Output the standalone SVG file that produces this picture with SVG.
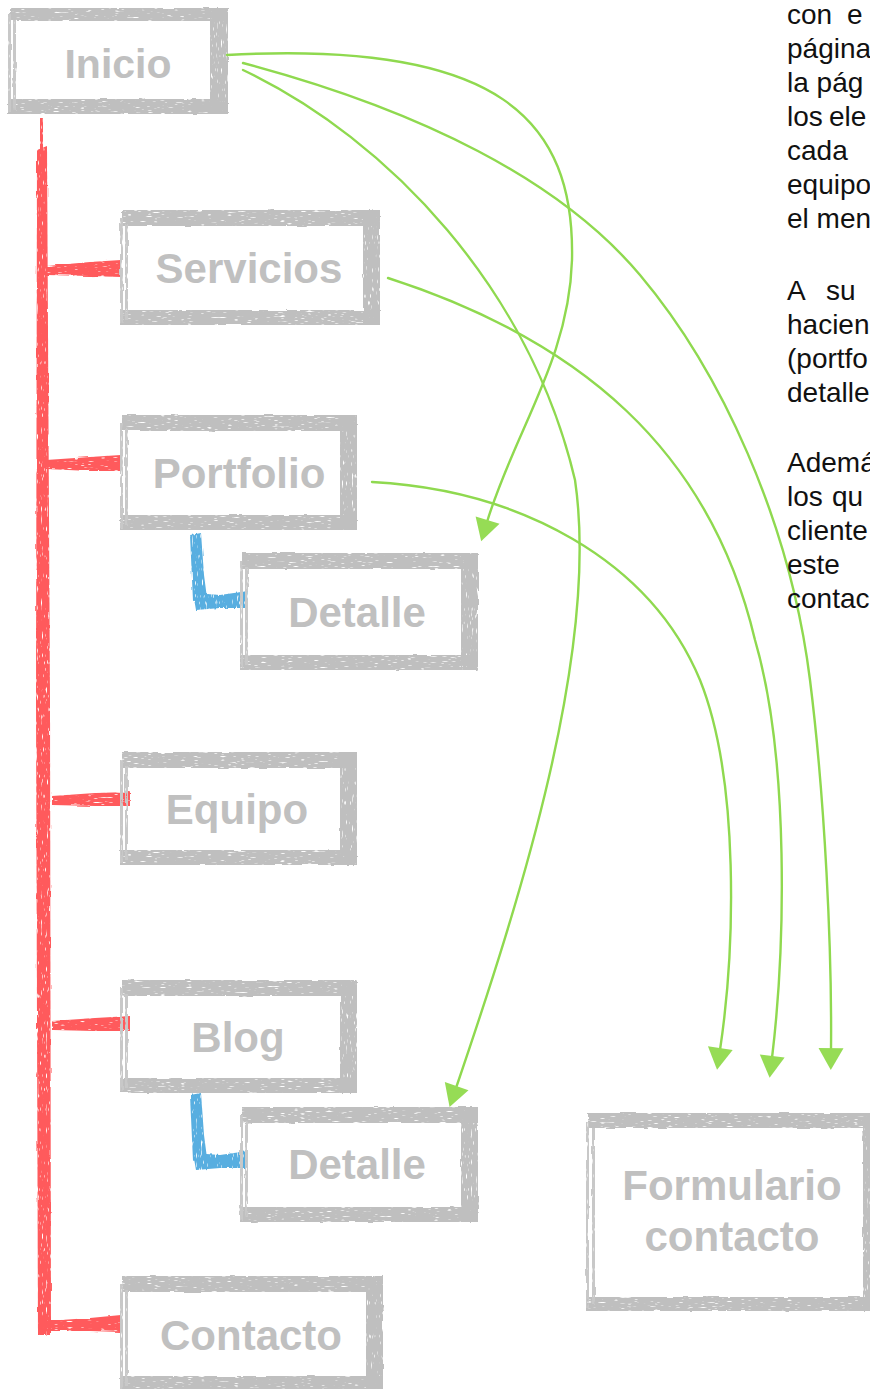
<svg xmlns="http://www.w3.org/2000/svg" width="870" height="1389" viewBox="0 0 870 1389">
  <defs>
    <style>
      .frame { fill: #bfbfbf; }
      .frame-thin { fill: #c8c8c8; }
      .label { font-family: "Liberation Sans", Arial, sans-serif; font-weight: bold; font-size: 42px; fill: #c0c0c0; text-anchor: middle; }
      .para { font-family: "Liberation Sans", Arial, sans-serif; font-size: 28px; fill: #111111; }
      .tree { fill: #ff5a5c; }
      .sub { fill: #58aee0; }
      .link { fill: none; stroke: #8fd94f; stroke-width: 2.4; stroke-linecap: round; }
    </style>
    <!-- dry brush grain: horizontal streaks -->
    <filter id="grainH" x="-5%" y="-10%" width="110%" height="120%">
      <feTurbulence type="fractalNoise" baseFrequency="0.05 0.5" numOctaves="2" seed="4" result="n"/>
      <feDisplacementMap in="SourceGraphic" in2="n" scale="2.5" xChannelSelector="R" yChannelSelector="G" result="d"/>
      <feTurbulence type="fractalNoise" baseFrequency="0.15 1.2" numOctaves="1" seed="9" result="g"/>
      <feColorMatrix in="g" type="matrix" values="0 0 0 0 0  0 0 0 0 0  0 0 0 0 0  7 0 0 0 -1.6" result="m"/>
      <feComposite in="d" in2="m" operator="in"/>
    </filter>
    <!-- dry brush grain: vertical streaks -->
    <filter id="grainV" x="-10%" y="-5%" width="120%" height="110%">
      <feTurbulence type="fractalNoise" baseFrequency="0.5 0.05" numOctaves="2" seed="6" result="n"/>
      <feDisplacementMap in="SourceGraphic" in2="n" scale="2.5" xChannelSelector="R" yChannelSelector="G" result="d"/>
      <feTurbulence type="fractalNoise" baseFrequency="1.2 0.15" numOctaves="1" seed="12" result="g"/>
      <feColorMatrix in="g" type="matrix" values="0 0 0 0 0  0 0 0 0 0  0 0 0 0 0  7 0 0 0 -1.6" result="m"/>
      <feComposite in="d" in2="m" operator="in"/>
    </filter>
    <marker id="tip" markerUnits="userSpaceOnUse" markerWidth="26" markerHeight="26" refX="2" refY="12.5" orient="auto" overflow="visible">
      <path d="M0,0 L22,12.5 L0,25 Z" fill="#96dc55"/>
    </marker>
  </defs>

  <rect width="870" height="1389" fill="#ffffff"/>

  <!-- red site tree: trunk and branches -->
  <g id="tree" class="tree" filter="url(#grainV)">
    <rect x="40" y="118" width="3" height="40"/>
    <path d="M37,150 L47,146 L50,700 L51,1335 L38,1335 L36,700 Z"/>
  </g>
  <g id="branches" class="tree" filter="url(#grainH)">
    <path d="M46,266 L90,262 L121,260 L121,277 L90,276 L46,275 Z"/>
    <path d="M46,460 L90,457 L121,455 L121,471 L90,471 L46,469 Z"/>
    <path d="M52,796 L95,793 L130,792 L130,806 L95,806 L52,805 Z"/>
    <path d="M52,1021 L95,1018 L130,1016 L130,1031 L95,1031 L52,1030 Z"/>
    <path d="M46,1321 L90,1318 L121,1315 L121,1332 L90,1331 L46,1331 Z"/>
  </g>

  <!-- blue sub-page connectors -->
  <g id="subs" class="sub" filter="url(#grainV)">
    <path d="M190,535 L201,533 L204,575 L207,598 L193,601 Z"/>
    <path d="M193,593 L220,595 L248,591 L248,608 L220,608 L196,610 Z"/>
    <path d="M190,1095 L201,1093 L204,1135 L207,1158 L193,1161 Z"/>
    <path d="M193,1153 L220,1155 L248,1151 L248,1168 L220,1168 L196,1170 Z"/>
  </g>

  <!-- nodes -->
  <g id="n-inicio">
    <g class="frame" filter="url(#grainH)">
      <rect x="10" y="8" width="218" height="13"/>
      <rect x="8" y="99" width="220" height="15"/>
    </g>
    <g class="frame" filter="url(#grainV)">
      <rect x="210" y="8" width="18" height="106"/>
      <rect class="frame-thin" x="8" y="14" width="3" height="98"/>
      <rect class="frame-thin" x="13" y="20" width="3" height="90"/>
    </g>
    <text class="label" x="118" y="78" style="font-size:41px">Inicio</text>
  </g>

  <g id="n-servicios">
    <g class="frame" filter="url(#grainH)">
      <rect x="122" y="210" width="258" height="16"/>
      <rect x="120" y="310" width="260" height="15"/>
    </g>
    <g class="frame" filter="url(#grainV)">
      <rect x="363" y="210" width="17" height="115"/>
      <rect class="frame-thin" x="120" y="218" width="3" height="105"/>
      <rect class="frame-thin" x="125" y="224" width="3" height="96"/>
    </g>
    <text class="label" x="249" y="283">Servicios</text>
  </g>

  <g id="n-portfolio">
    <g class="frame" filter="url(#grainH)">
      <rect x="122" y="415" width="235" height="16"/>
      <rect x="120" y="515" width="237" height="15"/>
    </g>
    <g class="frame" filter="url(#grainV)">
      <rect x="340" y="415" width="17" height="115"/>
      <rect class="frame-thin" x="120" y="423" width="3" height="105"/>
      <rect class="frame-thin" x="125" y="429" width="3" height="96"/>
    </g>
    <text class="label" x="239" y="488">Portfolio</text>
  </g>

  <g id="n-detalle-portfolio">
    <g class="frame" filter="url(#grainH)">
      <rect x="242" y="553" width="236" height="16"/>
      <rect x="240" y="655" width="238" height="15"/>
    </g>
    <g class="frame" filter="url(#grainV)">
      <rect x="461" y="553" width="17" height="117"/>
      <rect class="frame-thin" x="240" y="561" width="3" height="107"/>
      <rect class="frame-thin" x="245" y="567" width="3" height="98"/>
    </g>
    <text class="label" x="357" y="627">Detalle</text>
  </g>

  <g id="n-equipo">
    <g class="frame" filter="url(#grainH)">
      <rect x="122" y="752" width="235" height="16"/>
      <rect x="120" y="850" width="237" height="15"/>
    </g>
    <g class="frame" filter="url(#grainV)">
      <rect x="340" y="752" width="17" height="113"/>
      <rect class="frame-thin" x="120" y="760" width="3" height="103"/>
      <rect class="frame-thin" x="125" y="766" width="3" height="94"/>
    </g>
    <text class="label" x="237" y="824">Equipo</text>
  </g>

  <g id="n-blog">
    <g class="frame" filter="url(#grainH)">
      <rect x="122" y="980" width="235" height="16"/>
      <rect x="120" y="1078" width="237" height="15"/>
    </g>
    <g class="frame" filter="url(#grainV)">
      <rect x="340" y="980" width="17" height="113"/>
      <rect class="frame-thin" x="120" y="988" width="3" height="103"/>
      <rect class="frame-thin" x="125" y="994" width="3" height="94"/>
    </g>
    <text class="label" x="238" y="1052">Blog</text>
  </g>

  <g id="n-detalle-blog">
    <g class="frame" filter="url(#grainH)">
      <rect x="242" y="1107" width="236" height="16"/>
      <rect x="240" y="1207" width="238" height="15"/>
    </g>
    <g class="frame" filter="url(#grainV)">
      <rect x="461" y="1107" width="17" height="115"/>
      <rect class="frame-thin" x="240" y="1115" width="3" height="105"/>
      <rect class="frame-thin" x="245" y="1121" width="3" height="96"/>
    </g>
    <text class="label" x="357" y="1179">Detalle</text>
  </g>

  <g id="n-contacto">
    <g class="frame" filter="url(#grainH)">
      <rect x="122" y="1276" width="261" height="16"/>
      <rect x="120" y="1376" width="263" height="15"/>
    </g>
    <g class="frame" filter="url(#grainV)">
      <rect x="366" y="1276" width="17" height="115"/>
      <rect class="frame-thin" x="120" y="1284" width="3" height="105"/>
      <rect class="frame-thin" x="125" y="1290" width="3" height="96"/>
    </g>
    <text class="label" x="251" y="1350">Contacto</text>
  </g>

  <g id="n-formulario">
    <g class="frame" filter="url(#grainH)">
      <rect x="588" y="1113" width="290" height="15"/>
      <rect x="586" y="1297" width="290" height="14"/>
    </g>
    <g class="frame" filter="url(#grainV)">
      <rect x="863" y="1113" width="15" height="198"/>
      <rect class="frame-thin" x="586" y="1122" width="3" height="186"/>
      <rect class="frame-thin" x="592" y="1128" width="3" height="176"/>
    </g>
    <text class="label" x="732" y="1200">Formulario</text>
    <text class="label" x="732" y="1251">contacto</text>
  </g>

  <!-- green links to detail pages and the contact form -->
  <g id="links">
    <path class="link" marker-end="url(#tip)" d="M227,55 C500,40 575,120 572,260 C569,360 515,430 487,522"/>
    <path class="link" marker-end="url(#tip)" d="M243,63 C420,110 560,180 640,275 C720,370 790,520 810,680 C825,800 832,950 831,1050"/>
    <path class="link" marker-end="url(#tip)" d="M243,70 C390,140 530,290 575,480 C600,650 520,900 456,1088"/>
    <path class="link" marker-end="url(#tip)" d="M388,278 C580,340 710,450 755,640 C790,760 785,950 772,1058"/>
    <path class="link" marker-end="url(#tip)" d="M372,482 C520,490 650,560 700,680 C740,780 735,950 720,1050"/>
  </g>

  <!-- explanatory text column at the right edge -->
  <g id="notes" class="para">
    <text y="24"><tspan x="787">con</tspan><tspan x="847">e</tspan></text>
    <text x="787" y="58">página</text>
    <text x="787" y="92">la pág</text>
    <text y="126"><tspan x="787">los</tspan><tspan x="829">ele</tspan></text>
    <text x="787" y="160">cada</text>
    <text x="787" y="194">equipo</text>
    <text x="787" y="228">el men</text>
    <text y="300"><tspan x="787">A</tspan><tspan x="826">su</tspan></text>
    <text x="787" y="334">hacien</text>
    <text x="787" y="368">(portfo</text>
    <text x="787" y="402">detalle</text>
    <text x="787" y="472">Ademá</text>
    <text y="506"><tspan x="787">los</tspan><tspan x="832">qu</tspan></text>
    <text x="787" y="540">cliente</text>
    <text x="787" y="574">este</text>
    <text x="787" y="608">contac</text>
  </g>
</svg>
